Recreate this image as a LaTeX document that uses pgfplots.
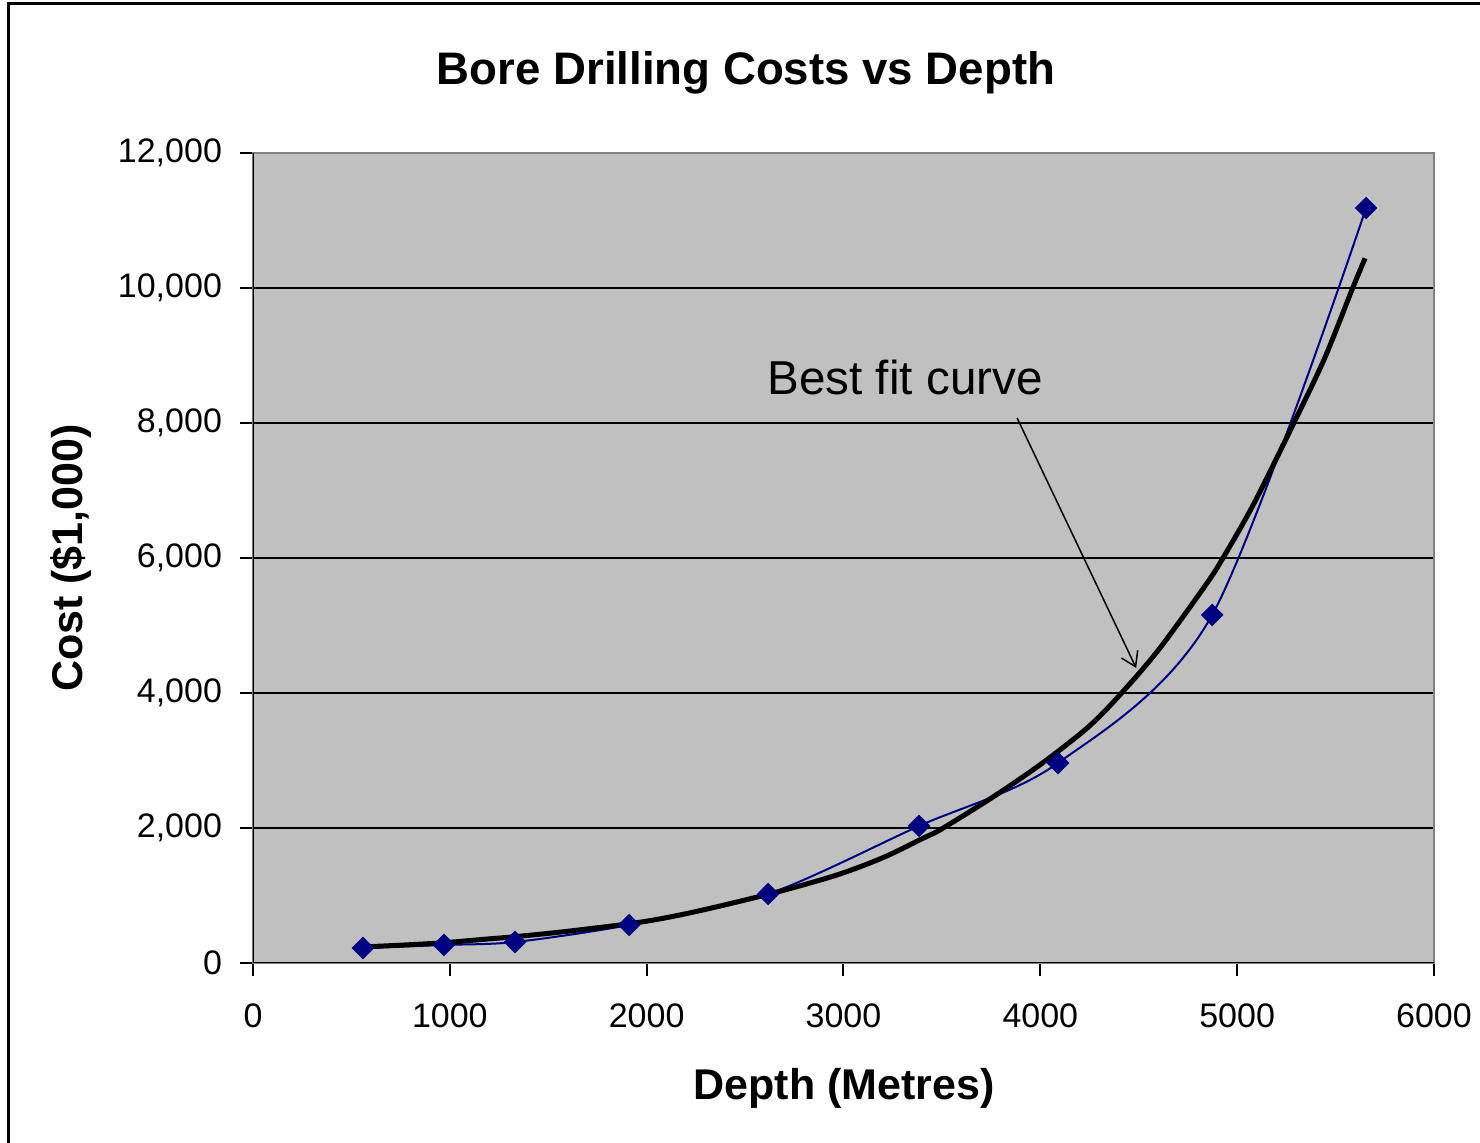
\documentclass[border=0pt]{standalone}
\usepackage{fontspec}
\setmainfont{Liberation Sans}
\usepackage{pgfplots}
\pgfplotsset{compat=1.18}
\usetikzlibrary{arrows.meta}
\definecolor{plotbg}{RGB}{192,192,192}
\definecolor{navyblue}{RGB}{0,0,128}
\definecolor{bordergray}{RGB}{128,128,128}
\begin{document}
\begin{tikzpicture}
\useasboundingbox (-126.5pt,-90pt) rectangle (613.5pt,481.5pt);
\fill[white] (-126.5pt,-90pt) rectangle (613.5pt,481.5pt);
\draw[line width=1.5pt] (-122.25pt,-95pt) -- (-122.25pt,479.5pt) -- (620pt,479.5pt);
\begin{axis}[
  at={(0,0)}, anchor=south west,
  scale only axis, width=590.5pt, height=405pt,
  xmin=0, xmax=6000, ymin=0, ymax=12000,
  xtick={0,1000,...,6000}, ytick={0,2000,...,12000},
  xtick pos=left, ytick pos=left,
  tick align=outside, major tick length=6.5pt,
  tick style={black, line width=1pt},
  ymajorgrids, grid style={black, line width=1pt},
  axis background/.style={fill=plotbg},
  axis line style={draw=bordergray, line width=1pt},
  tick label style={font=\fontsize{17}{20}\selectfont},
  /pgf/number format/assume math mode=true,
  scaled ticks=false,
  yticklabel style={/pgf/number format/1000 sep={,}, xshift=-5.5pt},
  xticklabel style={/pgf/number format/1000 sep={}, yshift=-10.5pt},
]
\addplot[navyblue, line width=1pt, smooth, mark=square*, mark size=3.5pt,
  mark options={rotate=45, fill=navyblue, draw=navyblue, solid}] coordinates {
  (559,222) (970,267) (1331,311) (1911,563) (2617,1022)
  (3384,2030) (4090,2963) (4873,5156) (5655,11185)
};
\addplot[black, line width=2.5pt, mark=none, smooth] coordinates {
  (559,238) (760,265) (970,300) (1150,345) (1331,390) (1600,470)
  (1966,604) (2200,730) (2446,895) (2700,1080) (2974,1311)
  (3200,1560) (3406,1850) (3501,1990) (3765,2470) (4005,2950)
  (4244,3496) (4413,4000) (4604,4652) (4844,5616) (4928,6000)
  (5084,6800) (5288,8000) (5444,8957) (5587,10000) (5650,10440)
};
\draw[bordergray, line width=1pt] (rel axis cs:0,1) -- (rel axis cs:1,1) -- (rel axis cs:1,0);
\draw[black, line width=1pt] (rel axis cs:0,1) -- (rel axis cs:0,0) -- (rel axis cs:1,0);
\draw[-{Straight Barb[length=7pt,width=9pt]}, line width=0.75pt] (axis cs:3882,8074) -- (axis cs:4487,4370);
\node[anchor=base west, inner sep=0pt, font=\fontsize{23.8}{28}\selectfont] at (axis cs:2612,8415) {Best fit curve};
\end{axis}
\node[anchor=base, inner sep=0pt, font=\bfseries\fontsize{22.8}{27}\selectfont] at (246.5pt,439pt) {Bore Drilling Costs vs Depth};
\node[anchor=base, inner sep=0pt, font=\bfseries\fontsize{21.5}{25}\selectfont] at (295.5pt,-68.5pt) {Depth (Metres)};
\node[rotate=90, anchor=base, inner sep=0pt, font=\bfseries\fontsize{21.5}{25}\selectfont] at (-85pt,202.5pt) {Cost (\$1,000)};
\end{tikzpicture}
\end{document}
